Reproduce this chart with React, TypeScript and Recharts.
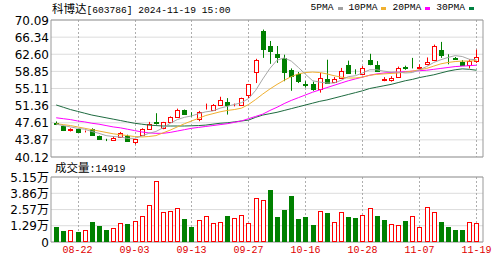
import React from "react";
import { ComposedChart, Bar, Line, XAxis, YAxis, CartesianGrid, ReferenceArea } from "recharts";

const dates = [
  "08-19", "08-20", "08-21", "08-22", "08-23", "08-26", "08-27", "08-28", "08-29", "08-30",
  "09-02", "09-03", "09-04", "09-05", "09-06", "09-09", "09-10", "09-11", "09-12", "09-13",
  "09-18", "09-19", "09-20", "09-23", "09-24", "09-25", "09-26", "09-27", "09-30", "10-08",
  "10-09", "10-10", "10-11", "10-14", "10-15", "10-16", "10-17", "10-18", "10-21", "10-22",
  "10-23", "10-24", "10-25", "10-28", "10-29", "10-30", "10-31", "11-01", "11-04", "11-05",
  "11-06", "11-07", "11-08", "11-11", "11-12", "11-13", "11-14", "11-15", "11-18", "11-19",
];
const labelDates = ["08-22", "09-03", "09-13", "09-27", "10-16", "10-28", "11-07", "11-19"];

const opens = [
  47.55, 46.9, 46.0, 46.2, 45.7, 46.3, 44.7, 43.9, 43.9, 44.4,
  44.8, 43.5, 44.9, 46.3, 47.8, 46.4, 47.7, 48.8, 50.3, 49.4,
  48.5, 50.6, 50.5, 51.4, 52.2, 51.4, 51.6, 53.6, 58.7, 67.6,
  64.5, 62.7, 61.8, 59.2, 58.3, 56.1, 56.1, 55.1, 57.1, 56.5,
  57.4, 60.3, 58.6, 58.2, 61.4, 60.3, 56.9, 57.0, 57.6, 59.8,
  59.8, 59.6, 60.4, 61.3, 63.6, 62.1, 61.8, 60.9, 60.2, 61.1,
];
const highs = [
  47.9, 47.0, 46.4, 46.3, 45.9, 46.4, 44.8, 44.1, 44.7, 45.6,
  45.0, 44.1, 46.4, 47.8, 49.7, 47.8, 49.0, 50.7, 50.5, 49.9,
  50.2, 51.8, 51.7, 53.3, 53.0, 51.8, 53.1, 56.1, 61.6, 68.0,
  65.5, 64.4, 62.5, 59.5, 58.7, 56.7, 56.6, 58.5, 61.4, 57.6,
  59.6, 61.2, 59.3, 60.0, 62.7, 61.1, 57.6, 57.8, 59.9, 60.1,
  61.8, 60.4, 61.9, 64.7, 65.3, 62.6, 62.0, 61.3, 61.5, 63.6,
];
const lows = [
  47.1, 45.8, 45.7, 45.4, 45.5, 44.9, 43.9, 43.6, 43.8, 44.3,
  43.5, 42.9, 44.8, 46.2, 47.2, 46.2, 47.6, 48.7, 49.5, 48.9,
  47.95, 50.5, 50.4, 51.3, 49.4, 51.2, 51.5, 53.0, 56.3, 61.8,
  60.5, 60.7, 56.7, 54.6, 56.3, 55.3, 54.6, 54.2, 56.3, 56.3,
  57.3, 58.3, 58.2, 58.0, 60.2, 58.8, 56.7, 56.6, 57.4, 59.2,
  59.5, 59.2, 60.2, 61.1, 61.8, 60.4, 61.4, 60.2, 59.5, 60.7,
];
const closes = [
  47.4, 46.0, 46.15, 45.5, 45.8, 45.0, 44.1, 43.8, 44.2, 45.3,
  43.7, 44.0, 46.3, 47.4, 47.5, 47.7, 48.9, 50.3, 49.6, 49.2,
  50.0, 50.7, 51.6, 52.5, 51.4, 51.6, 53.0, 56.0, 61.4, 63.8,
  63.3, 62.0, 58.7, 57.8, 56.7, 55.9, 54.9, 57.4, 56.4, 57.1,
  58.9, 58.5, 58.4, 59.6, 60.4, 59.0, 57.1, 57.3, 59.6, 59.5,
  59.7, 59.8, 60.9, 64.3, 62.5, 62.0, 61.6, 60.2, 61.1, 62.0,
];

// volume in 万手
const volumes = [
  1.19, 0.85, 0.93, 0.77, 0.93, 1.59, 1.3, 0.98, 1.14, 1.51,
  1.43, 1.67, 2.04, 2.92, 4.83, 2.36, 2.44, 2.71, 1.83, 1.19,
  1.75, 2.04, 1.51, 1.59, 2.04, 1.91, 2.12, 1.51, 3.48, 3.32,
  4.15, 2.02, 2.5, 3.68, 1.82, 1.95, 1.35, 2.49, 2.27, 1.59,
  2.4, 1.96, 1.9, 2.13, 2.68, 2.05, 1.75, 1.43, 1.35, 1.7,
  2.05, 1.18, 2.76, 2.41, 1.6, 1.22, 0.98, 0.98, 1.59, 1.49,
];
const volColors = [
  "g", "g", "r", "g", "r", "g", "g", "g", "r", "r",
  "g", "r", "r", "r", "r", "r", "r", "r", "g", "g",
  "r", "r", "r", "r", "g", "r", "r", "r", "r", "r",
  "g", "g", "g", "g", "g", "g", "g", "r", "g", "r",
  "r", "g", "g", "r", "r", "g", "g", "r", "r", "g",
  "r", "r", "r", "r", "g", "g", "g", "g", "r", "r",
];

const ma5 = [
  47.3, 47.0, 46.7, 46.4, 46.2, 45.7, 45.3, 44.8, 44.6, 44.5,
  44.2, 44.2, 44.7, 45.3, 45.7, 46.5, 47.5, 48.3, 48.8, 49.1,
  49.6, 50.0, 50.2, 50.8, 51.2, 51.6, 52.0, 52.9, 54.7, 57.2,
  59.5, 61.3, 61.8, 61.1, 59.7, 58.2, 56.8, 56.5, 56.3, 56.3,
  56.9, 57.7, 57.9, 58.5, 59.2, 59.2, 58.9, 58.7, 58.7, 58.5,
  58.6, 59.2, 59.9, 60.8, 61.4, 61.9, 62.3, 62.1, 61.5, 61.4,
];
const ma10 = [
  47.4, 47.2, 47.0, 46.7, 46.4, 46.1, 45.8, 45.5, 45.2, 45.0,
  44.8, 44.6, 44.5, 44.6, 44.8, 45.4, 46.0, 46.7, 47.4, 48.0,
  48.6, 49.2, 49.6, 50.0, 50.3, 50.5, 50.8, 51.6, 52.7, 53.9,
  55.0, 56.0, 56.9, 57.7, 58.3, 58.6, 58.7, 58.6, 58.3, 57.9,
  57.6, 57.4, 57.4, 57.6, 58.0, 58.2, 58.3, 58.4, 58.5, 58.7,
  58.9, 59.2, 59.5, 60.0, 60.5, 60.8, 61.0, 61.1, 61.1, 61.2,
];
const ma20 = [
  48.7, 48.5, 48.3, 48.0, 47.8, 47.5, 47.3, 47.0, 46.7, 46.5,
  46.2, 45.9, 45.6, 45.4, 45.3, 45.3, 45.5, 45.8, 46.1, 46.4,
  46.6, 46.8, 47.0, 47.2, 47.4, 47.7, 48.0, 48.5, 49.0, 49.5,
  50.3, 51.0, 51.8, 52.5, 53.1, 53.7, 54.3, 54.8, 55.3, 55.8,
  56.3, 56.8, 57.2, 57.6, 58.0, 58.3, 58.5, 58.6, 58.7, 58.8,
  58.9, 59.0, 59.1, 59.3, 59.5, 59.7, 59.9, 60.0, 60.1, 60.2,
];
const ma30 = [
  51.5, 51.0, 50.5, 50.1, 49.7, 49.3, 49.0, 48.7, 48.4, 48.1,
  47.8, 47.5, 47.3, 47.1, 47.0, 46.9, 46.9, 46.9, 46.9, 46.95,
  47.0, 47.1, 47.3, 47.5, 47.6, 47.8, 48.0, 48.2, 48.8, 49.3,
  49.6, 49.9, 50.3, 50.7, 51.1, 51.5, 51.9, 52.3, 52.6, 53.0,
  53.4, 53.8, 54.2, 54.6, 55.1, 55.4, 55.7, 56.0, 56.4, 56.8,
  57.1, 57.5, 57.8, 58.1, 58.5, 58.9, 59.2, 59.4, 59.3, 59.1,
];

const priceTicks = [40.12, 43.87, 47.61, 51.36, 55.11, 58.85, 62.6, 66.34, 70.09];
const volTicks = [0, 1.29, 2.57, 3.86, 5.15];
const lastVolume = "14919";

const RED = "#ff0000";
const GREEN = "#008000";
const GRID_V = "#9a9a9a";
const PRICE_MIN = priceTicks[0];
const PRICE_MAX = priceTicks[priceTicks.length - 1];
const VOL_MAX = volTicks[volTicks.length - 1];
const X_DOMAIN: [number, number] = [-0.73, 59.91];
const labelIdx = labelDates.map((d) => dates.indexOf(d));

const rows = dates.map((date, i) => ({
  i,
  date,
  open: opens[i],
  high: highs[i],
  low: lows[i],
  close: closes[i],
  hl: [lows[i], highs[i]],
  vol: volumes[i],
  volColor: volColors[i],
  dateLine: labelDates.includes(date),
  ma5: ma5[i],
  ma10: ma10[i],
  ma20: ma20[i],
  ma30: ma30[i],
}));

// dashed vertical line through the panel at a labelled date
function DateLine({ cx, y1, y2 }: { cx: number; y1: number; y2: number }) {
  return <path d={`M${cx},${y1}V${y2}`} stroke={GRID_V} strokeOpacity={0.8} strokeDasharray="2 2" strokeWidth={1} fill="none" />;
}

function Candle(props: any) {
  const { x, y, width, height, payload } = props;
  if (x == null || y == null) return null;
  const { open, close, high, low } = payload;
  const top = Math.min(y, y + height);
  const h = Math.abs(height);
  const k = high > low ? h / (high - low) : 0;
  const yOf = (v: number) => top + (high - v) * k;
  const cx = Math.round(x + width / 2) + 0.5;
  const up = close >= open;
  const color = up ? RED : GREEN;
  const bTop = Math.round(yOf(Math.max(open, close))) + 0.5;
  const bBot = Math.round(yOf(Math.min(open, close))) + 0.5;
  const bh = Math.max(0, bBot - bTop);
  return (
    <g>
      {payload.dateLine && k > 0 ? <DateLine cx={cx} y1={yOf(PRICE_MAX)} y2={yOf(PRICE_MIN)} /> : null}
      <line x1={cx} x2={cx} y1={yOf(high)} y2={yOf(low)} stroke={color} strokeWidth={1} />
      <rect x={cx - 2} y={bTop} width={4} height={bh} fill={up ? "#fff" : color} stroke={color} strokeWidth={1} />
    </g>
  );
}

function VolBar(props: any) {
  const { x, y, width, height, payload } = props;
  if (x == null || y == null) return null;
  const cx = Math.round(x + width / 2) + 0.5;
  const base = y + height;
  const k = payload.vol > 0 ? height / payload.vol : 0;
  const top = Math.round(y) + 0.5;
  const bottom = Math.round(base) - 0.5;
  const up = payload.volColor === "r";
  return (
    <g>
      {payload.dateLine && k > 0 ? <DateLine cx={cx} y1={base - VOL_MAX * k} y2={base} /> : null}
      <rect
        x={cx - 2}
        y={top}
        width={4}
        height={Math.max(0, bottom - top)}
        fill={up ? "#fff" : GREEN}
        stroke={up ? RED : GREEN}
        strokeWidth={1}
      />
    </g>
  );
}

const monoFont = "'Liberation Mono', monospace";
const cjkFont = "'Noto Sans CJK SC', sans-serif";
const axisFont = "'DejaVu Sans', 'Noto Sans CJK SC', sans-serif";

function LeftTick(props: any) {
  const { x, y, payload, fmt } = props;
  return (
    <text x={x} y={y} dy={4.5} textAnchor="end" fill="#000" fontSize={12} fontFamily={axisFont}>
      {fmt(payload.value)}
    </text>
  );
}

function LegendItem({ label, color }: { label: string; color: string }) {
  return (
    <span style={{ marginLeft: 6, display: "inline-flex", alignItems: "center" }}>
      {label}
      <span style={{ display: "inline-block", width: 5, height: 3, background: color, marginLeft: 4 }} />
    </span>
  );
}

export default function App() {
  return (
    <div style={{ position: "absolute", left: 0, top: 0, width: 503, height: 262, background: "#fff", overflow: "hidden" }}>
      <div style={{ position: "absolute", left: 0, top: 0 }}>
        <ComposedChart width={503} height={165} data={rows} margin={{ top: 20, right: 20, bottom: 8, left: 0 }}>
          <CartesianGrid vertical={false} stroke="#dcdcdc" />
          <XAxis dataKey="i" type="number" domain={X_DOMAIN} ticks={labelIdx} allowDataOverflow height={0} tick={false} axisLine={false} tickLine={false} />
          <YAxis
            domain={[PRICE_MIN, PRICE_MAX]}
            ticks={priceTicks}
            interval={0}
            width={51}
            tick={<LeftTick fmt={(v: number) => Number(v).toFixed(2)} />}
            tickSize={0}
            tickMargin={2}
            axisLine={false}
            allowDataOverflow
          />
          <ReferenceArea x1={X_DOMAIN[0]} x2={X_DOMAIN[1]} y1={PRICE_MIN} y2={PRICE_MAX} fill="none" stroke="#999" ifOverflow="visible" />
          <Line dataKey="ma30" stroke="#1e6b40" strokeWidth={1} dot={false} isAnimationActive={false} />
          <Line dataKey="ma20" stroke="#ff00ff" strokeWidth={1} dot={false} isAnimationActive={false} />
          <Line dataKey="ma10" stroke="#f0b030" strokeWidth={1} dot={false} isAnimationActive={false} />
          <Line dataKey="ma5" stroke="#a8a8a8" strokeWidth={1} dot={false} isAnimationActive={false} />
          <Bar dataKey="hl" barSize={5} shape={<Candle />} isAnimationActive={false} />
        </ComposedChart>
      </div>

      <div style={{ position: "absolute", left: 0, top: 160 }}>
        <ComposedChart width={503} height={102} data={rows} margin={{ top: 17, right: 20, bottom: 0, left: 0 }}>
          <CartesianGrid vertical={false} stroke="#dcdcdc" />
          <XAxis
            dataKey="i"
            type="number"
            domain={X_DOMAIN}
            ticks={labelIdx}
            interval={0}
            allowDataOverflow
            height={20}
            axisLine={false}
            tickLine={false}
            tickSize={0}
            tickMargin={4}
            tick={{ fill: "#e00000", fontSize: 10, fontFamily: monoFont }}
            tickFormatter={(v) => dates[v]}
          />
          <YAxis
            domain={[0, VOL_MAX]}
            ticks={volTicks}
            interval={0}
            width={51}
            tick={<LeftTick fmt={(v: number) => (v === 0 ? "0" : `${Number(v).toFixed(2)}万`)} />}
            tickSize={0}
            tickMargin={2}
            axisLine={false}
            allowDataOverflow
          />
          <ReferenceArea x1={X_DOMAIN[0]} x2={X_DOMAIN[1]} y1={0} y2={VOL_MAX} fill="none" stroke="#999" ifOverflow="visible" />
          <Bar dataKey="vol" barSize={5} shape={<VolBar />} isAnimationActive={false} />
        </ComposedChart>
      </div>

      <div style={{ position: "absolute", left: 52, top: 1, fontSize: 11.5, lineHeight: "14px", color: "#000", fontFamily: cjkFont, whiteSpace: "nowrap" }}>
        科博达<span style={{ fontFamily: monoFont, fontSize: 9.6 }}>[603786] 2024-11-19 15:00</span>
      </div>
      <div style={{ position: "absolute", right: 29, top: 1, fontSize: 9.6, lineHeight: "14px", color: "#000", fontFamily: monoFont, whiteSpace: "nowrap", display: "flex" }}>
        <LegendItem label="5PMA" color="#a0a0a0" />
        <LegendItem label="10PMA" color="#f0b030" />
        <LegendItem label="20PMA" color="#ff00ff" />
        <LegendItem label="30PMA" color="#008040" />
      </div>
      <div style={{ position: "absolute", left: 55, top: 160, fontSize: 11.5, lineHeight: "14px", color: "#000", fontFamily: cjkFont, whiteSpace: "nowrap" }}>
        成交量<span style={{ fontFamily: monoFont, fontSize: 10 }}>:{lastVolume}</span>
      </div>
    </div>
  );
}
